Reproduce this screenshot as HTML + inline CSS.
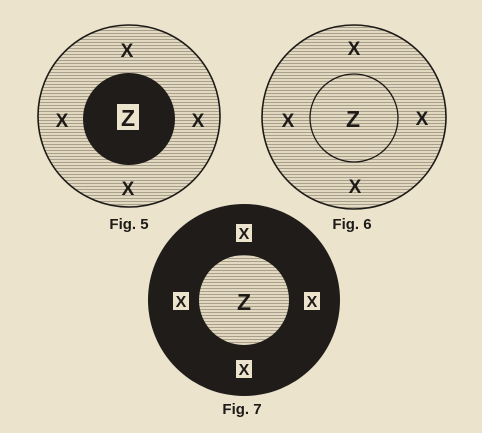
<!DOCTYPE html>
<html><head><meta charset="utf-8"><style>
html,body{margin:0;padding:0;background:#ebe3cc;}
svg{display:block}
text{font-family:"Liberation Sans",sans-serif;font-weight:bold;}
</style></head><body>
<svg width="482" height="433" viewBox="0 0 482 433">
<defs>
<pattern id="hatch" width="4" height="3" patternUnits="userSpaceOnUse">
<rect width="4" height="3" fill="#e2d9c0"/>
<rect y="0" width="4" height="1" fill="#a79f8b"/>
</pattern>
</defs>
<rect width="482" height="433" fill="#ebe3cc"/>
<g>
<circle cx="129" cy="116" r="91" fill="url(#hatch)" stroke="#1d1a17" stroke-width="1.6"/>
<circle cx="129" cy="119" r="46" fill="#1f1c19"/>
<rect x="117" y="104" width="22" height="26" fill="#ebe3cc"/>
<text x="128" y="126" font-size="23" text-anchor="middle" fill="#1d1a17">Z</text>
<g font-size="19" text-anchor="middle" fill="#1d1a17">
<text x="127" y="57">X</text>
<text x="62" y="127">X</text>
<text x="198" y="127">X</text>
<text x="128" y="195">X</text>
</g>
<text x="129" y="229" font-size="15" text-anchor="middle" fill="#1d1a17">Fig. 5</text>
</g>
<g>
<circle cx="354" cy="117" r="92" fill="url(#hatch)" stroke="#1d1a17" stroke-width="1.6"/>
<circle cx="354" cy="118" r="44" fill="none" stroke="#1d1a17" stroke-width="1.3"/>
<text x="353" y="127" font-size="23" text-anchor="middle" fill="#1d1a17">Z</text>
<g font-size="19" text-anchor="middle" fill="#1d1a17">
<text x="354" y="55">X</text>
<text x="288" y="127">X</text>
<text x="422" y="125">X</text>
<text x="355" y="193">X</text>
</g>
<text x="352" y="229" font-size="15" text-anchor="middle" fill="#1d1a17">Fig. 6</text>
</g>
<g>
<circle cx="244" cy="300" r="96" fill="#1f1c19"/>
<circle cx="244" cy="300" r="45" fill="url(#hatch)"/>
<text x="244" y="310" font-size="23" text-anchor="middle" fill="#1d1a17">Z</text>
<g font-size="16" text-anchor="middle" fill="#1d1a17">
<rect x="236" y="224" width="16" height="18" fill="#ebe3cc"/>
<text x="244" y="239">X</text>
<rect x="173" y="292" width="16" height="18" fill="#ebe3cc"/>
<text x="181" y="307">X</text>
<rect x="304" y="292" width="16" height="18" fill="#ebe3cc"/>
<text x="312" y="307">X</text>
<rect x="236" y="360" width="16" height="18" fill="#ebe3cc"/>
<text x="244" y="375">X</text>
</g>
<text x="242" y="414" font-size="15" text-anchor="middle" fill="#1d1a17">Fig. 7</text>
</g>
</svg>
</body></html>
